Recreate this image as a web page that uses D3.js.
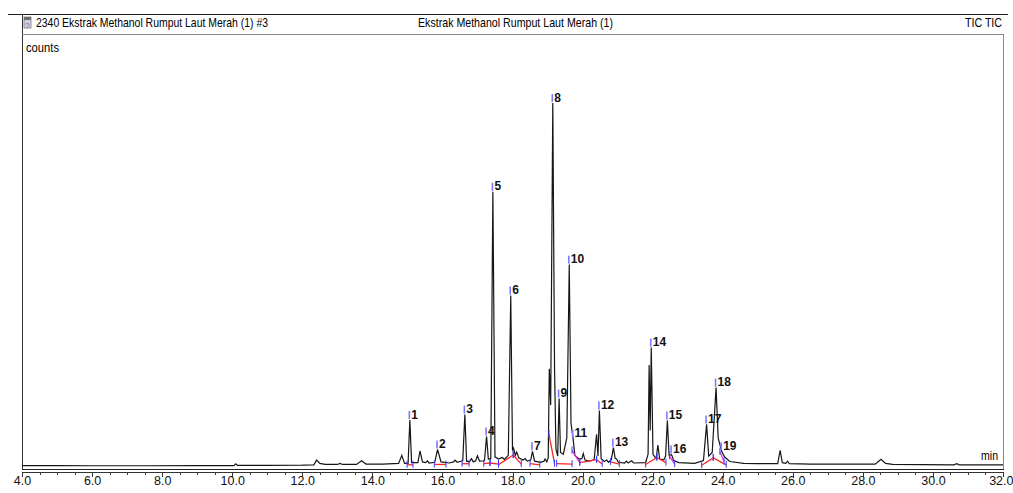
<!DOCTYPE html>
<html>
<head>
<meta charset="utf-8">
<title>TIC Ekstrak Methanol Rumput Laut Merah</title>
<script src="https://cdn.jsdelivr.net/npm/d3@7"></script>
<style>
  body { margin: 0; background: #fff; }
  svg { display: block; font-family: "Liberation Sans Narrow", "Arial Narrow", "Liberation Sans", Arial, sans-serif; }
  .trace { fill: none; stroke: #161616; stroke-width: 1.2px; }
  .axis path, .axis line { fill: none; stroke: #333; shape-rendering: crispEdges; }
  .axis text { font-size: 12.5px; fill: #111; }
  .plabel { font-size: 12px; font-weight: bold; fill: #111; font-family: "Liberation Sans", Arial, sans-serif; }
</style>
</head>
<body>
<script>
// chromatogram trace vertices (time in min, relative counts)
var traceTime = [4.0, 5.0, 6.0, 7.5, 9.0, 10.05, 10.1, 10.15, 11.0, 12.0, 12.33, 12.41, 12.5, 12.65, 13.0, 13.08, 13.15,
  13.55, 13.69, 13.82, 14.3, 14.75, 14.84, 14.92, 15.02, 15.07, 15.12, 15.3, 15.36, 15.43, 15.52, 15.57, 15.62,
  15.78, 15.86, 15.96, 16.2, 16.32, 16.36, 16.42, 16.5, 16.58, 16.64, 16.69, 16.77, 16.83, 16.88, 16.95, 17.0,
  17.06, 17.2, 17.26, 17.31, 17.38, 17.44, 17.5, 17.6, 17.7, 17.77, 17.88, 17.95, 18.0, 18.03, 18.08, 18.12,
  18.18, 18.3, 18.36, 18.42, 18.52, 18.57, 18.63, 18.8, 18.9, 18.93, 18.98, 19.02, 19.05, 19.09, 19.15, 19.2,
  19.24, 19.29, 19.33, 19.37, 19.45, 19.55, 19.62, 19.67, 19.73, 19.78, 19.9, 19.98, 20.02, 20.07, 20.2, 20.33,
  20.4, 20.44, 20.48, 20.53, 20.62, 20.69, 20.74, 20.82, 20.88, 20.93, 20.97, 21.02, 21.2, 21.25, 21.3, 21.4,
  21.46, 21.8, 21.87, 21.9, 21.93, 21.96, 22.01, 22.1, 22.15, 22.2, 22.32, 22.37, 22.42, 22.47, 22.54, 22.6,
  22.75, 23.2, 23.45, 23.54, 23.6, 23.7, 23.81, 23.87, 23.97, 24.05, 24.2, 24.6, 25.0, 25.57, 25.64, 25.7, 25.8,
  25.85, 25.9, 26.5, 28.35, 28.45, 28.52, 28.65, 28.85, 30.6, 30.68, 30.75, 32.0];
var traceCounts = [0.4, 0.4, 0.35, 0.35, 0.4, 0.4, 0.9, 0.45, 0.45, 0.5, 0.6, 1.9, 1.0, 0.7, 0.7, 1.0, 0.7,
  0.7, 1.7, 0.8, 0.8, 1.0, 3.2, 1.0, 1.0, 12.9, 1.2, 1.2, 4.4, 1.4, 1.2, 1.7, 1.1,
  1.3, 4.8, 1.4, 1.1, 1.4, 1.9, 1.3, 1.5, 1.7, 14.4, 1.6, 1.4, 2.3, 1.4, 1.7, 3.1,
  1.6, 1.7, 8.4, 2.2, 2.3, 75.6, 2.8, 2.2, 2.6, 2.1, 3.2, 47.1, 4.5, 5.2, 3.2, 4.1,
  2.5, 1.9, 2.3, 1.6, 1.9, 4.3, 1.6, 1.3, 1.6, 2.2, 1.4, 2.5, 27, 17, 100, 27,
  5, 3, 18.8, 4, 3.5, 8, 55.6, 12, 7.8, 3.2, 2.2, 2.3, 3.7, 1.9, 1.6, 2.0,
  9.0, 3.0, 15.5, 2.3, 1.5, 1.9, 1.3, 2.0, 5.3, 2.4, 2.2, 1.3, 1.1, 1.6, 1.1, 1.7,
  1.1, 1.2, 3.5, 28, 10, 32.8, 3.5, 2.3, 6.0, 2.2, 2.0, 3.0, 12.8, 3.2, 3.4, 1.8,
  1.2, 1.0, 1.8, 11.7, 3.0, 4.0, 21.8, 8, 4.3, 2.8, 1.5, 1.0, 0.9, 0.9, 4.6, 1.2, 1.0,
  1.6, 0.9, 0.8, 0.8, 1.6, 2.1, 1.0, 0.7, 0.6, 0.9, 0.6, 0.6];

// labelled peaks
var peakNo = [1, 2, 3, 4, 5, 6, 7, 8, 9, 10, 11, 12, 13, 14, 15, 16, 17, 18, 19];
var peakTime = [15.07, 15.86, 16.64, 17.26, 17.44, 17.95, 18.57, 19.15, 19.33, 19.62, 19.73, 20.48, 20.88, 21.96, 22.42, 22.54, 23.54, 23.81, 23.97];
var peakCounts = [12.9, 4.8, 14.4, 8.4, 75.6, 47.1, 4.3, 100, 18.8, 55.6, 7.8, 15.5, 5.3, 32.8, 12.8, 3.4, 11.7, 21.8, 4.3];

// integration baselines (r = red baseline, m = magenta skim)
var baseStart = [14.99, 15.77, 16.56, 17.18, 17.36, 17.6, 18.02, 18.5, 19.04, 19.26, 19.7, 19.92, 20.4, 20.8, 21.8, 22.12, 22.48, 23.4, 23.73, 23.92];
var baseStartCounts = [0.6, 0.7, 0.9, 0.9, 1.1, 0.6, 3.3, 0.9, 9, 0.9, 4.5, 1.2, 2.0, 1.4, 0.7, 2.6, 3.0, 0.5, 2.5, 4.2];
var baseEnd = [15.16, 16.1, 16.76, 17.36, 17.6, 18.02, 18.25, 18.78, 19.2, 19.7, 19.92, 20.4, 20.56, 21.05, 22.12, 22.38, 22.63, 23.73, 24.1, 24.04];
var baseEndCounts = [0.6, 0.7, 0.9, 1.1, 0.8, 3.3, 0.8, 0.6, 0.9, 0.8, 1.2, 2.0, 0.8, 0.8, 2.6, 1.2, 0.8, 2.5, 0.6, 1.5];
var baseKind = ["r", "r", "r", "r", "r", "r", "r", "r", "r", "r", "m", "r", "r", "r", "r", "r", "m", "r", "r", "m"];

var majorTicks = [4, 6, 8, 10, 12, 14, 16, 18, 20, 22, 24, 26, 28, 30, 32];
var minorTicks = [4.5, 5, 5.5, 6.5, 7, 7.5, 8.5, 9, 9.5, 10.5, 11, 11.5, 12.5, 13, 13.5, 14.5, 15, 15.5, 16.5, 17, 17.5,
  18.5, 19, 19.5, 20.5, 21, 21.5, 22.5, 23, 23.5, 24.5, 25, 25.5, 26.5, 27, 27.5, 28.5, 29, 29.5, 30.5, 31, 31.5];

var W = 1013, H = 493;
var left = 22, right = 1003, plotTop = 34, plotBottom = 469, axisY = 472;

var svg = d3.select("body").append("svg")
    .attr("width", W)
    .attr("height", H);

var x = d3.scaleLinear().domain([4, 32]).range([left, right]);
var y = d3.scaleLinear().domain([0, 100]).range([467, 103]);

// frame
svg.append("line").attr("x1", 8).attr("x2", 1008).attr("y1", 14.5).attr("y2", 14.5)
    .attr("stroke", "#222").attr("stroke-width", 1.2);
svg.append("line").attr("x1", left + 0.5).attr("x2", left + 0.5).attr("y1", 14).attr("y2", plotBottom)
    .attr("stroke", "#333");
svg.append("line").attr("x1", left).attr("x2", right).attr("y1", plotTop + 0.5).attr("y2", plotTop + 0.5)
    .attr("stroke", "#8a8a8a");
svg.append("line").attr("x1", right + 0.5).attr("x2", right + 0.5).attr("y1", plotTop).attr("y2", plotBottom)
    .attr("stroke", "#8a8a8a");
svg.append("line").attr("x1", left).attr("x2", right + 1).attr("y1", plotBottom + 0.5).attr("y2", plotBottom + 0.5)
    .attr("stroke", "#222");

// title bar
var icon = svg.append("g").attr("transform", "translate(24,17)");
icon.append("rect").attr("width", 7).attr("height", 11).attr("fill", "#c9d3e8").attr("stroke", "#7a7a8a").attr("stroke-width", 0.8);
icon.append("rect").attr("width", 7).attr("height", 3).attr("fill", "#6d6d6d");
icon.append("text").attr("x", 1.2).attr("y", 10.5).attr("font-size", 8).attr("fill", "#d04040").text("?");

svg.append("text").attr("x", 36).attr("y", 27).attr("font-size", 13.5)
    .attr("textLength", 232).attr("lengthAdjust", "spacingAndGlyphs")
    .text("2340 Ekstrak Methanol Rumput Laut Merah (1) #3");
svg.append("text").attr("x", 418).attr("y", 27).attr("font-size", 13.5)
    .attr("textLength", 195).attr("lengthAdjust", "spacingAndGlyphs")
    .text("Ekstrak Methanol Rumput Laut Merah (1)");
svg.append("text").attr("x", 965).attr("y", 27).attr("font-size", 13.5)
    .attr("textLength", 37).attr("lengthAdjust", "spacingAndGlyphs")
    .text("TIC TIC");
svg.append("text").attr("x", 26).attr("y", 52).attr("font-size", 13.5)
    .attr("textLength", 33).attr("lengthAdjust", "spacingAndGlyphs")
    .text("counts");
svg.append("text").attr("x", 981).attr("y", 460).attr("font-size", 13.5)
    .attr("textLength", 17).attr("lengthAdjust", "spacingAndGlyphs")
    .text("min");

// x axis
var gx = svg.append("g")
    .attr("class", "axis")
    .attr("transform", "translate(0," + axisY + ")")
    .call(d3.axisBottom(x).tickValues(majorTicks).tickSize(5).tickSizeOuter(0)
      .tickFormat(function(d) { return d.toFixed(1); }));
gx.selectAll("text").attr("y", 4);
// last label sits against the window edge
gx.selectAll(".tick").filter(function(d) { return d === 32; })
    .select("text").attr("text-anchor", "end").attr("x", 10);

svg.append("g")
    .attr("class", "axis")
    .attr("transform", "translate(0," + axisY + ")")
    .call(d3.axisBottom(x).tickValues(minorTicks).tickSize(3).tickSizeOuter(0).tickFormat(""))
    .select(".domain").remove();

// trace
var pts = traceTime.map(function(t, i) { return [t, traceCounts[i]]; });
var line = d3.line()
    .x(function(d) { return x(d[0]); })
    .y(function(d) { return y(d[1]); });

svg.append("path")
    .datum(pts)
    .attr("class", "trace")
    .attr("d", line);

// integration baselines
var segs = baseStart.map(function(t, i) {
  return {t0: t, c0: baseStartCounts[i], t1: baseEnd[i], c1: baseEndCounts[i], kind: baseKind[i]};
});

svg.append("g").selectAll("line")
    .data(segs)
  .enter().append("line")
    .attr("x1", function(d) { return x(d.t0); })
    .attr("y1", function(d) { return y(d.c0); })
    .attr("x2", function(d) { return x(d.t1); })
    .attr("y2", function(d) { return y(d.c1); })
    .attr("stroke", function(d) { return d.kind === "m" ? "#e030e0" : "#ff2626"; })
    .attr("stroke-width", 1.3);

var ticks = [];
segs.forEach(function(d) {
  ticks.push([d.t0, d.c0]);
  ticks.push([d.t1, d.c1]);
});

svg.append("g").selectAll("line")
    .data(ticks)
  .enter().append("line")
    .attr("x1", function(d) { return x(d[0]); })
    .attr("x2", function(d) { return x(d[0]); })
    .attr("y1", function(d) { return y(d[1]) - 4; })
    .attr("y2", function(d) { return y(d[1]) + 3; })
    .attr("stroke", "#3a3aff")
    .attr("stroke-width", 1);

// peak labels with apex markers
var peaks = peakNo.map(function(n, i) { return {n: n, t: peakTime[i], c: peakCounts[i]}; });

var pg = svg.append("g").selectAll("g")
    .data(peaks)
  .enter().append("g")
    .attr("transform", function(d) { return "translate(" + x(d.t) + "," + y(d.c) + ")"; });

pg.append("line")
    .attr("x1", -0.5).attr("x2", -0.5)
    .attr("y1", -9).attr("y2", -1)
    .attr("stroke", "#7a7aff")
    .attr("stroke-width", 1.6);

pg.append("text")
    .attr("class", "plabel")
    .attr("x", 1.5)
    .attr("y", -1.5)
    .text(function(d) { return d.n; });
</script>
</body>
</html>
